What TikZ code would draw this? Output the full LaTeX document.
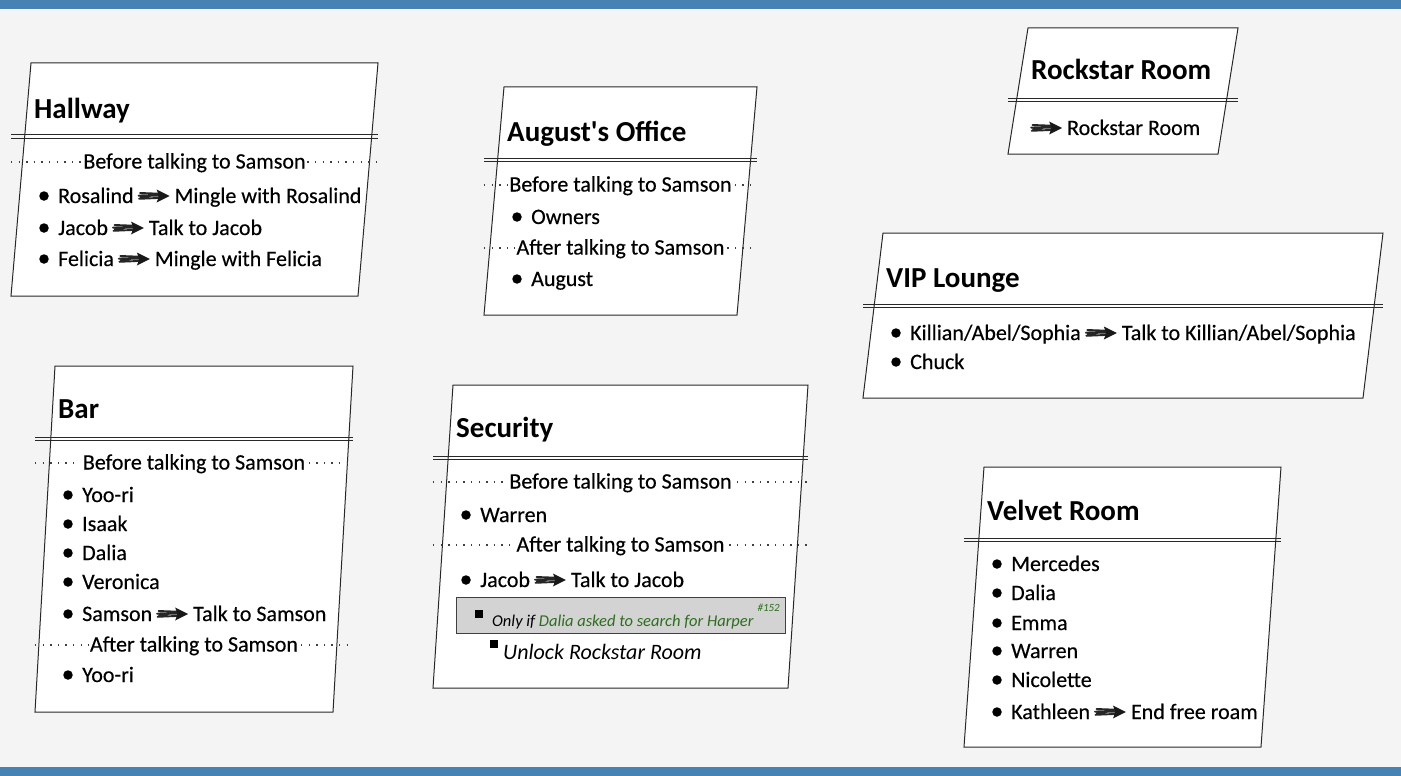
\documentclass[tikz,border=0pt]{standalone}
\usepackage{fontspec}
\setmainfont{Carlito}
\newfontfamily\bodyfont{Carlito}[FakeBold=0.35]
\definecolor{band}{RGB}{70,130,180}
\definecolor{bg}{RGB}{244,244,244}
\definecolor{edge}{RGB}{40,40,40}
\definecolor{grn}{RGB}{45,110,30}
\definecolor{graybg}{RGB}{211,211,211}

\newcommand{\harr}{\kern4pt\tikz[baseline=-7pt,x=1pt,y=1pt]{%
 \draw[line width=1.9pt,line cap=round,color=black!85] (0,0.3)--(21,0.4) (0.5,-2.8)--(21,-1.9) (1.5,3)--(20.5,2.3) (2,-1.3)--(20,1.4);
 \fill[black!90] (18,6.5)--(31,0)--(18,-6.5)--(20.5,0)--cycle;}\kern5pt}

\newcommand{\bitem}[4]{%
 \node[bul] (#3b) at ({#1+33},#2) {};
 \node[rowtxt] (#3) at ({#1+47},{#2+7}) {#4};}
\newcommand{\sepr}[5]{%
 \draw[sepline] (#1,#3) -- (#2,#3);
 \node[septxt] (#4) at ({(#1+#2)/2},{#3+6.5}) {#5};}
\newcommand{\room}[8]{%
 \draw[box] ({#2+20},#4) -- (#3,#4) -- ({#3-20},#5) -- (#2,#5) -- cycle;
 \draw[dline] (#2,{#6-1.7}) -- (#3,{#6-1.7}) (#2,{#6+1.7}) -- (#3,{#6+1.7});
 \node[titletxt] (#1) at ({#2+23},#7) {#8};}

\tikzset{
 box/.style={draw=edge, fill=white, line width=1pt},
 dline/.style={draw=edge, line width=1pt},
 bul/.style={circle, fill=black, minimum size=9.5pt, inner sep=0pt},
 sqbul/.style={rectangle, fill=black, minimum size=8pt, inner sep=0pt},
 sepline/.style={draw=black!75, line width=1.3pt, dash pattern=on 1.3pt off 6.3pt},
 septxt/.style={anchor=base, fill=white, inner xsep=1.5pt, inner ysep=0pt, font=\bodyfont\fontsize{22}{26}\selectfont},
 rowtxt/.style={anchor=base west, inner sep=0pt, font=\bodyfont\fontsize{22}{26}\selectfont},
 titletxt/.style={anchor=base west, inner sep=0pt, font=\fontsize{29}{34}\selectfont\bfseries},
}

\begin{document}
\begin{tikzpicture}[x=1pt,y=-1pt]
\useasboundingbox (0,0) rectangle (1401,776);
\fill[bg] (0,0) rectangle (1401,776);
\fill[band] (0,0) rectangle (1401,9);
\fill[band] (0,767) rectangle (1401,776);

% Hallway
\room{hall}{11}{378}{63}{296}{136.5}{118}{Hallway}
\sepr{11}{378}{162}{hallsep}{Before talking to Samson}
\bitem{11}{196}{hall1}{Rosalind\harr Mingle with Rosalind}
\bitem{11}{228}{hall2}{Jacob\harr Talk to Jacob}
\bitem{11}{259}{hall3}{Felicia\harr Mingle with Felicia}

% August's Office
\room{aug}{484}{757}{87}{315}{160}{141}{August\textquotesingle s Office}
\sepr{484}{757}{185}{augsep1}{Before talking to Samson}
\bitem{484}{217}{aug1}{Owners}
\sepr{484}{757}{248}{augsep2}{After talking to Samson}
\bitem{484}{279}{aug2}{August}

% Rockstar Room
\room{rock}{1008}{1238}{28}{154}{100}{80}{Rockstar Room}
\node[rowtxt] (rock1) at (1026,135) {\harr Rockstar Room};

% VIP Lounge
\room{vip}{863}{1383}{233}{398}{306}{287}{VIP Lounge}
\bitem{863}{333}{vip1}{Killian/Abel/Sophia\harr Talk to Killian/Abel/Sophia}
\bitem{863}{362}{vip2}{Chuck}

% Bar
\room{bar}{35}{353}{366}{712}{439}{418}{Bar}
\sepr{35}{353}{463}{barsep1}{Before talking to Samson}
\bitem{35}{495}{bar1}{Yoo-ri}
\bitem{35}{524}{bar2}{Isaak}
\bitem{35}{553}{bar3}{Dalia}
\bitem{35}{582}{bar4}{Veronica}
\bitem{35}{614}{bar5}{Samson\harr Talk to Samson}
\sepr{35}{353}{645}{barsep2}{After talking to Samson}
\bitem{35}{675}{bar6}{Yoo-ri}

% Security
\room{sec}{433}{808}{385}{688}{458}{437}{Security}
\sepr{433}{808}{482}{secsep1}{Before talking to Samson}
\bitem{433}{515}{sec1}{Warren}
\sepr{433}{808}{545}{secsep2}{After talking to Samson}
\bitem{433}{580}{sec2}{Jacob\harr Talk to Jacob}
\node[draw=black!75, fill=graybg, line width=1pt, minimum width=329pt, minimum height=36pt, inner sep=0pt] (cond) at (620.5,615) {};
\node[sqbul] (condb) at (478.5,613.5) {};
\node[anchor=base west, inner sep=0pt, font=\fontsize{16.5}{19}\selectfont\itshape] (onlyif) at (492,626) {Only if \textcolor{grn}{Dalia asked to search for Harper}};
\node[anchor=base east, inner sep=0pt, font=\fontsize{11}{13}\selectfont\itshape, text=grn] (issue) at (780,611) {\#152};
\node[sqbul] (unlockb) at (493.5,644) {};
\node[anchor=base west, inner sep=0pt, font=\fontsize{22}{26}\selectfont\itshape] (unlock) at (503,659) {Unlock Rockstar Room};

% Velvet Room
\room{vel}{964}{1281}{467}{747}{540}{520}{Velvet Room}
\bitem{964}{564}{vel1}{Mercedes}
\bitem{964}{593}{vel2}{Dalia}
\bitem{964}{623}{vel3}{Emma}
\bitem{964}{651}{vel4}{Warren}
\bitem{964}{680}{vel5}{Nicolette}
\bitem{964}{712}{vel6}{Kathleen\harr End free roam}
\end{tikzpicture}
\end{document}
